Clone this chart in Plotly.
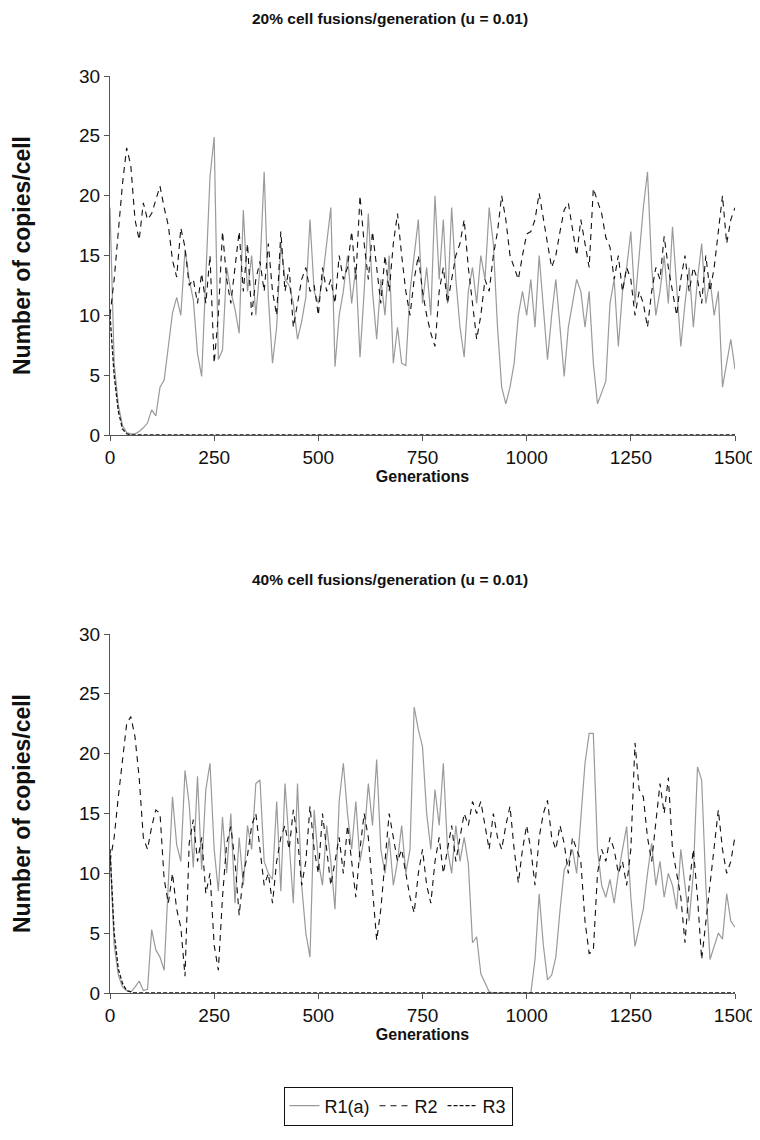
import plotly.graph_objects as go

generations = list(range(0, 1501, 10))

# ---- Panel A: 20% cell fusions/generation ----
top_r1 = [
    19, 6, 2.5, 0.8, 0.2, 0.1, 0.1, 0.3, 0.6, 1.0,
    2.1, 1.6, 4.0, 4.6, 7.4, 10.2, 11.5, 10, 15.5, 13,
    11.3, 6.8, 4.9, 14, 21.6, 24.9, 6.3, 7.1, 14, 12,
    10.5, 8.5, 18.8, 12, 15, 10, 14, 22, 11.5, 6,
    9, 16, 13, 12.5, 11, 8, 9.5, 11.5, 18, 12,
    11, 13, 16, 19, 5.7, 10, 12, 15, 11, 14,
    6.5, 12, 18.5, 12, 8, 13, 10, 15, 6, 9,
    6, 5.8, 12, 15, 18, 11, 14, 10, 20, 13,
    18, 11, 19, 13, 9, 6.5, 12, 14, 11, 15,
    13, 19, 16, 9, 4, 2.6, 4, 6, 10, 12,
    10, 13, 9, 15, 11, 6.3, 10, 13, 9, 4.9,
    9, 11, 13, 12, 9, 12, 6, 2.6, 3.5, 4.5,
    11, 13, 7.4, 12, 14, 17, 11, 15, 19, 22,
    14, 10, 12, 15, 11, 17.4, 12, 7.4, 11, 14,
    9, 13, 16, 11, 13, 10, 12, 4, 6, 8,
    5.5,
]
top_r2 = [
    10, 13, 17, 21, 24, 22.5, 18, 16.3, 19.4, 18,
    18.5, 19.6, 20.8, 19, 17.5, 14.6, 13.2, 17.3, 15.7, 12.5,
    13, 11, 13.5, 11, 15, 6, 10, 17, 13, 11,
    14, 17, 12, 16, 10, 13, 14.5, 12, 16, 12,
    10, 17, 12, 14, 9, 11, 13, 14, 12, 12.5,
    10, 14, 12, 13, 11, 15, 13, 14, 17, 13,
    20, 16, 13, 17, 14, 11, 15, 12, 16, 18.5,
    15, 12, 10, 13, 15, 12, 10, 8.5, 7.4, 12,
    14, 11, 13, 15, 16, 18, 14, 11, 8, 10,
    13, 12, 15, 17, 20, 18, 15, 14, 13, 15,
    16.8, 17, 18, 20.2, 18, 16, 14, 15, 17, 18.8,
    19.4, 17, 15, 18, 16, 14, 20.6, 19.5, 18.5, 16.5,
    15.7, 13, 15, 12, 14, 13, 10, 12, 11, 9,
    12, 14, 13, 16.6, 14, 12, 10, 13, 15, 12,
    14, 13, 11, 15, 12, 14, 17, 20, 16, 18,
    19,
]
top_r3 = [10, 5, 2, 0.5, 0.1] + [0] * 146

# ---- Panel B: 40% cell fusions/generation ----
bot_r1 = [
    12, 4, 1.5, 0.5, 0.2, 0.1, 0.5, 1.0, 0.2, 0.3,
    5.3, 3.6, 3.0, 1.9, 9.2, 16.4, 12.4, 11, 18.6, 15.8,
    10.5, 18.1, 10.3, 17, 19.2, 12, 8.5, 14.7, 10, 15,
    7.5, 13, 9, 14, 12, 17.5, 17.8, 11, 10, 9.5,
    16, 8.5, 17.5, 12, 7.5, 17.5, 9, 5, 3.0, 15.3,
    11, 9, 14, 11, 7, 16, 19.2, 15, 12, 16,
    11, 13, 17.5, 14, 19.5, 12, 10, 13, 9, 11,
    14, 10, 12, 23.9, 22, 20.6, 15, 12, 17, 14,
    19.2, 12, 10, 14, 11, 13, 10.8, 4.2, 4.7, 1.6,
    0.8, 0.1, 0, 0, 0, 0, 0, 0, 0, 0,
    0, 0, 2.8, 8.3, 4, 1.1, 1.5, 3, 6.9, 10.3,
    11, 12, 10, 15, 19.2, 21.7, 21.7, 12, 9, 8,
    9.5, 7.5, 10, 12, 13.9, 8, 3.9, 5.5, 7, 10,
    12.5, 9, 11, 8, 10, 9, 7, 12, 9, 6,
    10, 18.9, 17.8, 9, 2.8, 4, 5, 4.5, 8.3, 6,
    5.5,
]
bot_r2 = [
    11, 13, 16.4, 19.2, 22.5, 23.1, 21.4, 18, 13, 12,
    13.9, 15.3, 15, 9.5, 7.5, 10, 7, 5.5, 1.4, 12.5,
    14.5, 11, 13, 8.3, 10, 4, 1.9, 8, 12.5, 13.9,
    11, 6.5, 10, 11.5, 14, 15, 12, 9, 10, 7.5,
    11, 13, 14, 12, 15.3, 13, 9, 11, 15.6, 12,
    10, 15, 12, 9, 11, 13, 10, 14, 11, 8,
    12, 15, 13, 9, 4.4, 7, 11, 15, 13, 11,
    12, 10, 8, 6.7, 10, 12, 9, 7.5, 11, 13,
    10, 12, 14, 11, 13, 15, 14, 16, 15, 16,
    14, 12, 15, 13, 12, 14, 15.6, 12, 9.2, 12,
    14, 12, 9, 13, 15, 16.1, 13, 12, 14, 12.5,
    10, 13, 12, 11, 6, 3.3, 3.5, 10, 12, 11,
    13, 12, 10, 11, 9, 12, 20.9, 17, 16.4, 13,
    11, 14, 17.5, 15, 18, 12, 10, 8, 4.2, 9,
    12, 8, 2.8, 6, 9, 12, 15.3, 12, 10, 11,
    13.1,
]
bot_r3 = [12, 5, 2, 0.8, 0.2, 0.1] + [0] * 145

y_ticks = [0, 5, 10, 15, 20, 25, 30]
x_ticks = [0, 250, 500, 750, 1000, 1250, 1500]
panel_titles = ["20% cell fusions/generation (u = 0.01)",
                "40% cell fusions/generation (u = 0.01)"]
series_names = ["R1(a)", "R2", "R3"]

FONT = "Liberation Sans, Arial, sans-serif"
styles = [
    dict(color="#9a9a9a", width=1.2, dash="solid"),
    dict(color="#111111", width=1.1, dash="6px,5px"),
    dict(color="#111111", width=1.3, dash="4px,2px"),
]

fig = go.Figure()
panels = [(top_r1, top_r2, top_r3, "x", "y"), (bot_r1, bot_r2, bot_r3, "x2", "y2")]
for pi, (a, b, c, xa, ya) in enumerate(panels):
    for si, vals in enumerate([a, b, c]):
        fig.add_trace(go.Scatter(
            x=generations, y=vals, mode="lines", name=series_names[si],
            line=styles[si], xaxis=xa, yaxis=ya, showlegend=(pi == 0),
        ))

# page body adds an 8px offset; positions below are compensated for it
W, H = 760, 1140
xdom = [102 / W, 727 / W]
ydom_top = [1 - 427 / H, 1 - 68 / H]
ydom_bot = [1 - 985 / H, 1 - 626 / H]

axis_common = dict(showline=True, linecolor="#555555", linewidth=1, ticks="outside",
                   ticklen=5, tickcolor="#555555", showgrid=False, zeroline=False,
                   automargin=False,
                   tickfont=dict(family=FONT, size=19, color="#111"))
xcommon = dict(axis_common, range=[0, 1500], tickvals=x_ticks,
               title=dict(text="<b>Generations</b>", font=dict(family=FONT, size=16, color="#111"), standoff=4))
ycommon = dict(axis_common, range=[0, 30], tickvals=y_ticks,
               title=dict(text="<b>Number of copies/cell</b>", font=dict(family=FONT, size=23, color="#111"), standoff=42))

fig.update_layout(
    width=W, height=H,
    paper_bgcolor="white", plot_bgcolor="white",
    margin=dict(l=0, r=0, t=0, b=0, autoexpand=False),
    xaxis=dict(xcommon, domain=xdom, anchor="y"),
    yaxis=dict(ycommon, domain=ydom_top, anchor="x"),
    xaxis2=dict(xcommon, domain=xdom, anchor="y2"),
    yaxis2=dict(ycommon, domain=ydom_bot, anchor="x2"),
    showlegend=True,
    legend=dict(orientation="h", x=390 / W, y=1 - 1098 / H, xanchor="center", yanchor="middle",
                bordercolor="#111", borderwidth=1, bgcolor="white",
                font=dict(family=FONT, size=18, color="#111"),
                itemwidth=30, tracegroupgap=0),
    annotations=[
        dict(text="<b>" + panel_titles[0] + "</b>", x=382 / W, y=1 - 10 / H, xref="paper", yref="paper",
             showarrow=False, font=dict(family=FONT, size=15.5, color="#111"), xanchor="center", yanchor="middle"),
        dict(text="<b>" + panel_titles[1] + "</b>", x=382 / W, y=1 - 571 / H, xref="paper", yref="paper",
             showarrow=False, font=dict(family=FONT, size=15.5, color="#111"), xanchor="center", yanchor="middle"),
    ],
)

fig.write_html("out.html")
